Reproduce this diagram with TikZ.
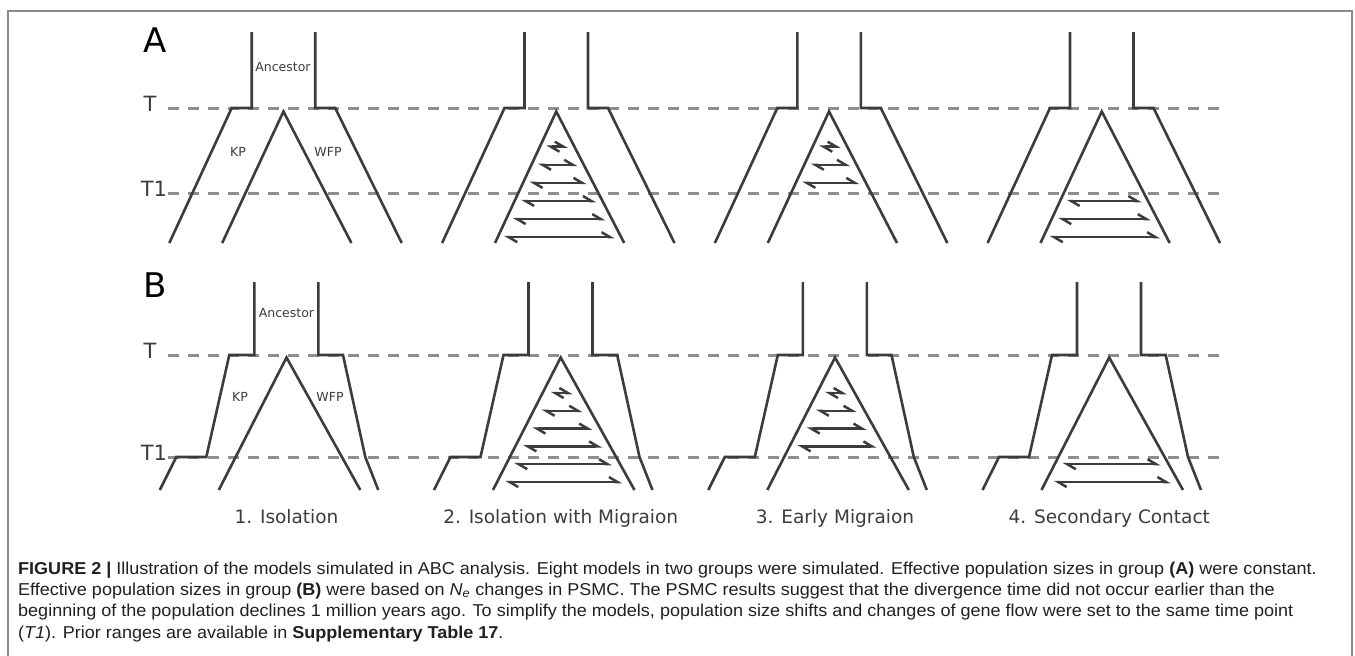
\documentclass[tikz,border=0pt]{standalone}
\usepackage{fontspec}
\setmainfont{Liberation Sans}[FakeStretch=1.048]
\newfontfamily\labelfont{DejaVu Sans}
\usetikzlibrary{arrows.meta}

\definecolor{treegray}{HTML}{3C3C3C}
\definecolor{dashgray}{HTML}{8E8E8E}
\definecolor{framegray}{HTML}{8A8A8A}
\definecolor{captext}{HTML}{231F20}

\tikzstyle{branch} = [draw=treegray, line width=2.6pt]
\tikzstyle{epoch} = [draw=dashgray, line width=3pt, dash pattern=on 11pt off 9pt]
\tikzstyle{flow} = [draw=treegray, line width=2.5pt, {Straight Barb[harpoon, length=8.5pt, width=10pt]}-{Straight Barb[harpoon, length=8.5pt, width=10pt]}]
\tikzstyle{panel} = [font=\labelfont\fontsize{34}{34}\selectfont, text=black, inner sep=0pt]
\tikzstyle{timelabel} = [font=\labelfont\fontsize{21}{21}\selectfont, text=treegray, inner sep=0pt]
\tikzstyle{poplabel} = [font=\labelfont\fontsize{12.5}{12.5}\selectfont, text=treegray, inner sep=0pt]
\tikzstyle{modelname} = [font=\labelfont\fontsize{18.5}{18.5}\selectfont, text=treegray, inner sep=0pt, anchor=base]
\tikzstyle{caption} = [font=\fontsize{17.2}{21}\selectfont, text=captext, inner sep=0pt, anchor=base west]

\begin{document}
\begin{tikzpicture}[x=1pt, y=-1pt]
\useasboundingbox (0,0) rectangle (1355,656);

% frame
\draw[framegray, line width=1.5pt] (8,660) -- (8,11) -- (1352,11) -- (1352,660);

% panel letters, time labels and epochs
\node[panel] (labA) at (155,40) {A};
\node[panel] (labB) at (155,285) {B};
\foreach \p/\yt/\yo in {A/108/193, B/355/457} {
  \node[timelabel] (T\p) at (150,\yt-4) {T};
  \node[timelabel] (To\p) at (154,\yo-4) {T1};
  \draw[epoch] (168,\yt) -- (1221,\yt);
  \draw[epoch] (168,\yo) -- (1221,\yo);
}

% group A: constant population sizes
\foreach \x in {251.7, 524.5, 797.3, 1070} {
  \draw[branch] (\x,32) -- (\x,108) -- (\x-20,108) -- (\x-82.4,243);
  \draw[branch] (\x+63.5,32) -- (\x+63.5,108) -- (\x+83.5,108) -- (\x+150,243);
  \draw[branch] (\x-29.5,243) -- (\x+31.75,111.5) -- (\x+99.7,243);
}
\foreach \x/\first/\last in {524.5/1/6, 797.3/1/3, 1070/4/6}
  \foreach \k in {\first,...,\last} {
    \pgfmathsetmacro\yy{146.7+18.1*(\k-1)}
    \draw[flow] ({\x+31.75-61.25*(\yy-111.5)/131.5+6.5},\yy) -- ({\x+31.75+67.95*(\yy-111.5)/131.5-6.5},\yy);
  }

% group B: population sizes from PSMC
\foreach \x in {254.3, 528.5, 802.8, 1077} {
  \draw[branch] (\x,282) -- (\x,355) -- (\x-25,355) -- (\x-48,457) -- (\x-78,457) -- (\x-94.5,490);
  \draw[branch] (\x+64,282) -- (\x+64,355) -- (\x+88.7,355) -- (\x+111,457) -- (\x+124,490);
  \draw[branch] (\x-35.5,490) -- (\x+32.2,357.5) -- (\x+106,490);
}
\foreach \x/\first/\last in {528.5/1/6, 802.8/1/4, 1077/5/6}
  \foreach \k in {\first,...,\last} {
    \pgfmathsetmacro\yy{393+17.8*(\k-1)}
    \draw[flow] ({\x+32.2-67.7*(\yy-357.5)/132.5+8},\yy) -- ({\x+32.2+73.8*(\yy-357.5)/132.5-8},\yy);
  }

% population labels
\node[poplabel] (ancA) at (283,67) {Ancestor};
\node[poplabel] (kpA) at (238,152) {KP};
\node[poplabel] (wfpA) at (328,152) {WFP};
\node[poplabel] (ancB) at (286.5,313) {Ancestor};
\node[poplabel] (kpB) at (240,397) {KP};
\node[poplabel] (wfpB) at (330,397) {WFP};

% model names
\foreach \x/\name/\txt in {286.5/iso/1. Isolation, 560.7/im/2. Isolation with Migraion, 835/em/3. Early Migraion, 1109.3/sc/4. Secondary Contact}
  \node[modelname] (\name) at (\x,523) {\txt};

% caption
\node[caption] (cap1) at (18,574) {\textbf{FIGURE 2 |} Illustration of the models simulated in ABC analysis. Eight models in two groups were simulated. Effective population sizes in group \textbf{(A)} were constant.};
\node[caption] (cap2) at (18,595.3) {Effective population sizes in group \textbf{(B)} were based on \textit{N}\textsubscript{\textit{e}} changes in PSMC. The PSMC results suggest that the divergence time did not occur earlier than the};
\node[caption] (cap3) at (18,616.6) {beginning of the population declines 1 million years ago. To simplify the models, population size shifts and changes of gene flow were set to the same time point};
\node[caption] (cap4) at (18,638) {(\textit{T1}). Prior ranges are available in \textbf{Supplementary Table 17}.};

\end{tikzpicture}
\end{document}
